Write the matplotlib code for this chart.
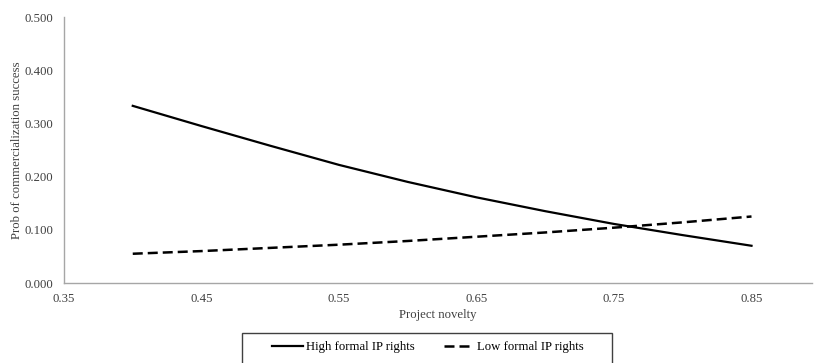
import matplotlib
matplotlib.use("Agg")
import matplotlib.pyplot as plt
from matplotlib.patches import Rectangle

plt.rcParams['font.family'] = ['Liberation Serif', 'DejaVu Serif']

novelty = [0.40, 0.45, 0.50, 0.55, 0.60, 0.65, 0.70, 0.75, 0.80, 0.85]
high_ip = [0.333, 0.295, 0.258, 0.222, 0.190, 0.161, 0.135, 0.111, 0.090, 0.070]
low_ip = [0.055, 0.060, 0.066, 0.072, 0.079, 0.087, 0.095, 0.104, 0.114, 0.125]

x_ticks = [0.35, 0.45, 0.55, 0.65, 0.75, 0.85]
y_ticks = [0.0, 0.1, 0.2, 0.3, 0.4, 0.5]

W, H = 814, 363
fig = plt.figure(figsize=(W/100, H/100), dpi=100)
ax = fig.add_axes([64/W, 80/H, 748/W, 266/H])

ax.plot(novelty, high_ip, color="black", lw=1.6, label="High formal IP rights")
ax.plot(novelty, low_ip, color="black", lw=1.8, ls=(0, (4, 2)), label="Low formal IP rights")

ax.set_xlim(0.35, 0.894)
ax.set_ylim(0, 0.5)
ax.set_xticks(x_ticks)
ax.set_xticklabels(["%.2f" % t for t in x_ticks])
ax.set_yticks(y_ticks)
ax.set_yticklabels(["%.3f" % t for t in y_ticks])
ax.tick_params(length=0, labelsize=9.2, pad=8, colors="#404040")
ax.tick_params(axis="x", pad=7)

for s in ["top", "right"]:
    ax.spines[s].set_visible(False)
for s in ["left", "bottom"]:
    ax.spines[s].set_color("#a6a6a6")
    ax.spines[s].set_linewidth(1)

ax.set_xlabel("Project novelty", fontsize=9.2, color="#404040", labelpad=3)
ax.set_ylabel("Prob of commercialization success", fontsize=9.2, color="#404040", labelpad=1)

# legend box runs off the bottom edge, as in the original
fig.patches.append(Rectangle((242/W, -0.05), 370/W, 0.05 + 30/H, transform=fig.transFigure,
                             fill=False, edgecolor="#404040", lw=1))
fig.legend(loc="center", bbox_to_anchor=(428/W, 1 - 347/H), ncol=2,
           fontsize=9.2, frameon=False, handlelength=2.4, handletextpad=0.2,
           columnspacing=2.3, borderpad=0, borderaxespad=0)

fig.savefig("out.png", dpi=100)
